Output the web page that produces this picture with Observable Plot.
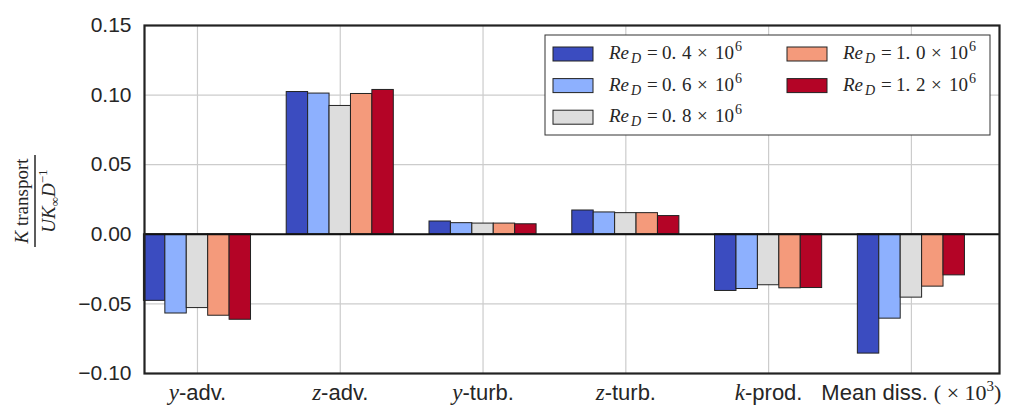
<!DOCTYPE html>
<html><head><meta charset="utf-8">
<script src="https://cdn.jsdelivr.net/npm/d3@7"></script>
<script src="https://cdn.jsdelivr.net/npm/@observablehq/plot@0.6"></script>
<style>body{margin:0;background:#fff} #chart{width:1011px;height:407px}</style>
</head><body><div id="chart"></div>
<script>
// ---- data ----
const categories = ["y-adv.", "z-adv.", "y-turb.", "z-turb.", "k-prod.", "Mean diss. (×10³)"];
const mathVars = ["y", "z", "y", "z", "k", ""];
const suffixes = ["-adv.", "-adv.", "-turb.", "-turb.", "-prod.", "Mean diss. "];
const reynolds = ["0.4", "0.6", "0.8", "1.0", "1.2"];
const colors = ["#3b4cc0", "#8db0fe", "#dddddd", "#f49a7b", "#b40426"];
const s04 = [-0.0478, 0.1022, 0.0092, 0.0171, -0.0407, -0.0857];
const s06 = [-0.0569, 0.1011, 0.0080, 0.0157, -0.0393, -0.0606];
const s08 = [-0.0530, 0.0922, 0.0077, 0.0152, -0.0366, -0.0455];
const s10 = [-0.0585, 0.1008, 0.0077, 0.0152, -0.0388, -0.0376];
const s12 = [-0.0614, 0.1037, 0.0072, 0.0131, -0.0386, -0.0295];
const yTicks = [-0.10, -0.05, 0.00, 0.05, 0.10, 0.15];
const barWidth = 0.15;

const series = [s04, s06, s08, s10, s12];
const data = [];
categories.forEach((c, i) => series.forEach((s, j) => data.push({
  i, j, re: reynolds[j], value: s[i],
  x1: i - 2.5 * barWidth + j * barWidth,
  x2: i - 2.5 * barWidth + (j + 1) * barWidth
})));

const serif = "'Liberation Serif','DejaVu Serif',serif";
const sans = "'Liberation Sans',Arial,sans-serif";

const plot = Plot.plot({
  width: 1011, height: 407,
  marginLeft: 144, marginRight: 12, marginTop: 25, marginBottom: 34,
  style: {fontFamily: sans, background: "#fff", color: "#262626"},
  x: {type: "linear", domain: [-0.371, 5.617]},
  y: {domain: [-0.10, 0.15]},
  color: {domain: reynolds, range: colors},
  marks: [
    Plot.gridX(d3.range(categories.length), {stroke: "#cccccc", strokeOpacity: 1, strokeWidth: 1.2}),
    Plot.gridY(yTicks, {stroke: "#cccccc", strokeOpacity: 1, strokeWidth: 1.2}),
    Plot.rect(data, {x1: "x1", x2: "x2", y1: d => 0, y2: "value", fill: "re", stroke: "#222", strokeWidth: 1}),
    Plot.ruleY([0], {stroke: "#111", strokeWidth: 2}),
    Plot.frame({stroke: "#222", strokeWidth: 2.2}),
    Plot.axisY(yTicks, {tickSize: 0, tickPadding: 13, fontSize: 21, label: null,
      tickFormat: d => d3.format(".2f")(d)}),
    Plot.axisX(d3.range(categories.length), {tickSize: 0, tickPadding: 11, fontSize: 22, label: null,
      tickFormat: i => categories[i]})
  ]
});
document.getElementById("chart").append(plot);
const svg = d3.select(plot);

// x tick labels with math italic parts
svg.selectAll('g[aria-label="x-axis tick label"] text').each(function(d, k) {
  const t = d3.select(this);
  const i = k;
  t.text(null);
  if (mathVars[i]) {
    t.append("tspan").attr("font-family", serif).attr("font-style", "italic").attr("font-size", 23).text(mathVars[i]);
    t.append("tspan").text(suffixes[i]);
  } else {
    t.append("tspan").text(suffixes[i]);
    t.append("tspan").attr("font-family", serif).attr("font-size", 22).text("( × 10");
    t.append("tspan").attr("font-family", serif).attr("font-size", 15).attr("dy", -9).text("3");
    t.append("tspan").attr("font-family", serif).attr("font-size", 22).attr("dy", 9).text(")");
  }
});

// y-axis label: fraction
const yl = svg.append("g").attr("transform", "translate(0,201) rotate(-90)")
  .attr("font-family", serif).attr("fill", "#262626").attr("text-anchor", "middle");
const num = yl.append("text").attr("x", 0).attr("y", 28).attr("font-size", 19);
num.append("tspan").attr("font-style", "italic").text("K");
num.append("tspan").text(" transport");
yl.append("line").attr("x1", -46).attr("x2", 46).attr("y1", 35).attr("y2", 35).attr("stroke", "#262626").attr("stroke-width", 1.5);
const den = yl.append("text").attr("x", 0).attr("y", 55).attr("font-size", 19).attr("font-style", "italic");
den.append("tspan").text("UK");
den.append("tspan").attr("font-size", 13).attr("dy", 4).attr("font-style", "normal").text("∞");
den.append("tspan").attr("dy", -4).text("D");
den.append("tspan").attr("font-size", 13).attr("dy", -8).attr("font-style", "normal").text("−1");

// legend
const lg = svg.append("g").attr("font-family", serif).attr("fill", "#262626").attr("text-anchor", "start");
lg.append("rect").attr("x", 545).attr("y", 35).attr("width", 445).attr("height", 100)
  .attr("fill", "#fff").attr("stroke", "#333").attr("stroke-width", 1);
const cols = [553, 787];
reynolds.forEach((re, j) => {
  const col = j < 3 ? 0 : 1;
  const row = j < 3 ? j : j - 3;
  const cy = 54 + row * 31.6;
  const x0 = cols[col] + 56;
  lg.append("rect").attr("x", cols[col]).attr("y", cy - 7).attr("width", 40).attr("height", 14)
    .attr("fill", colors[j]).attr("stroke", "#222").attr("stroke-width", 1);
  const t = lg.append("text").attr("y", cy + 5).attr("font-size", 19);
  t.append("tspan").attr("x", x0).attr("font-style", "italic").text("Re");
  t.append("tspan").attr("x", x0 + 22).attr("font-style", "italic").attr("font-size", 14).attr("dy", 4).text("D");
  t.append("tspan").attr("x", x0 + 38).attr("dy", -4).text("=");
  t.append("tspan").attr("x", x0 + 53).text(re.split(".")[0] + ".");
  t.append("tspan").attr("x", x0 + 73).text(re.split(".")[1]);
  t.append("tspan").attr("x", x0 + 88).text("×");
  t.append("tspan").attr("x", x0 + 106).text("10");
  t.append("tspan").attr("x", x0 + 126).attr("font-size", 14).attr("dy", -8).text("6");
});
</script>
</body></html>
